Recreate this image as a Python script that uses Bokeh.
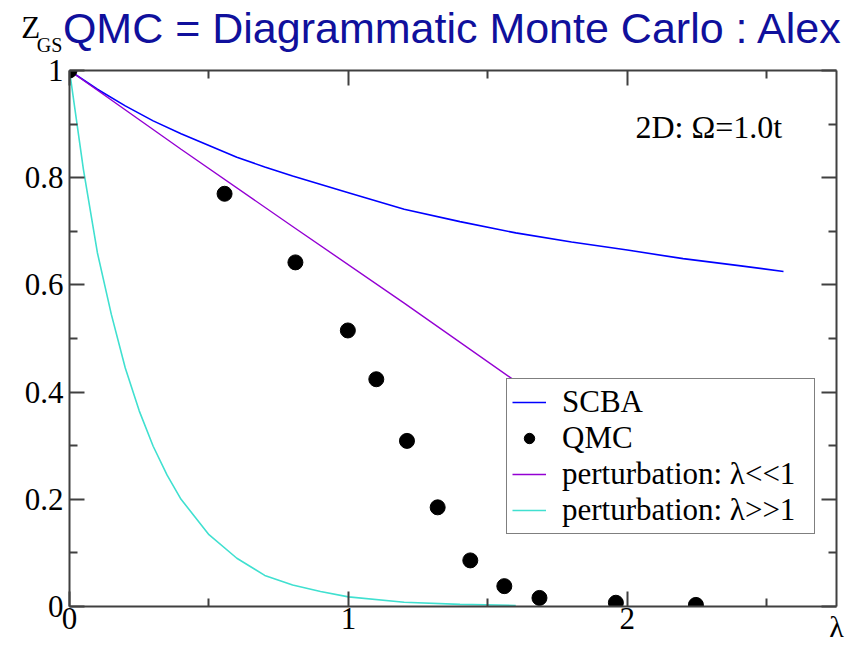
from bokeh.plotting import figure
from bokeh.models import Range1d, LinearAxis, FixedTicker, Label, Legend, LegendItem
from bokeh.embed import file_html
from bokeh.resources import INLINE

# SCBA quasiparticle weight vs coupling lambda
scba_lam = [0, 0.1, 0.2, 0.3, 0.4, 0.5, 0.6, 0.7, 0.8, 1.0, 1.2, 1.4, 1.6, 1.8, 2.0, 2.2, 2.4, 2.56]
scba_z = [1.0, 0.965, 0.934, 0.906, 0.882, 0.860, 0.838, 0.820, 0.803, 0.772, 0.741, 0.718,
          0.697, 0.680, 0.665, 0.649, 0.636, 0.625]

# Diagrammatic Monte Carlo points
qmc_lam = [0.0, 0.556, 0.810, 0.998, 1.100, 1.210, 1.320, 1.437, 1.559, 1.685, 1.959, 2.246]
qmc_z = [1.0, 0.770, 0.642, 0.515, 0.424, 0.309, 0.185, 0.086, 0.038, 0.016, 0.007, 0.003]

# weak-coupling perturbation theory
weak_lam = [0, 0.4, 0.8, 1.2, 1.6, 1.9]
weak_z = [1.0, 0.853, 0.709, 0.566, 0.420, 0.310]

# strong-coupling perturbation theory
strong_lam = [0, 0.05, 0.1, 0.15, 0.2, 0.25, 0.3, 0.35, 0.4, 0.5, 0.6, 0.7, 0.8, 0.9, 1.0, 1.2, 1.4, 1.6]
strong_z = [1.0, 0.815, 0.660, 0.545, 0.445, 0.365, 0.299, 0.245, 0.200, 0.134, 0.090, 0.058,
            0.040, 0.028, 0.018, 0.008, 0.004, 0.002]

x_major = [0, 1, 2]
x_minor = [0.5, 1.5, 2.5]
y_major = [0, 0.2, 0.4, 0.6, 0.8, 1.0]
y_minor = [0.1, 0.3, 0.5, 0.7, 0.9]

HEADING = "QMC = Diagrammatic Monte Carlo : Alex"
SERIF = "Liberation Serif"
AXIS_COLOR = "#404040"
NBSP = "\u00a0"

p = figure(width=850, height=645, output_backend="svg", toolbar_location=None,
           x_range=Range1d(0, 2.75), y_range=Range1d(0, 1),
           min_border_left=69, min_border_right=14, min_border_top=69, min_border_bottom=37,
           x_axis_location=None, y_axis_location=None)
p.grid.visible = False
p.outline_line_color = None
p.background_fill_color = "white"
p.border_fill_color = "white"


def style_axis(ax, ticks, minor):
    ax.ticker = FixedTicker(ticks=ticks, minor_ticks=minor)
    ax.axis_line_color = AXIS_COLOR
    ax.axis_line_width = 2
    ax.major_tick_line_color = AXIS_COLOR
    ax.minor_tick_line_color = AXIS_COLOR
    ax.major_tick_line_width = 2
    ax.minor_tick_line_width = 2
    ax.major_tick_in = 15
    ax.major_tick_out = 0
    ax.minor_tick_in = 8
    ax.minor_tick_out = 0
    ax.major_label_text_font = SERIF
    ax.major_label_text_font_size = "31px"
    ax.major_label_text_color = "black"


# bottom axis: tick labels and the lambda title at its right end
xb = LinearAxis()
style_axis(xb, x_major, x_minor)
xb.major_label_standoff = 1
xb.axis_label = "λ"
xb.axis_label_align = "end"
xb.axis_label_standoff_mode = "axis"
xb.axis_label_standoff = 3
xb.axis_label_text_font = SERIF
xb.axis_label_text_font_size = "30px"
xb.axis_label_text_font_style = "normal"
xb.axis_label_text_color = "black"
p.add_layout(xb, "below")

# left axis: the Z of the y title rides two lines above the "1"
yl = LinearAxis()
style_axis(yl, y_major, y_minor)
yl.major_label_standoff = 6
yl.major_label_text_line_height = 0.62
yl.major_label_overrides = {
    0: "0",
    1: "\n".join(["Z" + NBSP * 3, NBSP, "1", NBSP, NBSP]),
}
p.add_layout(yl, "left")

# top axis: mirrored ticks, the GS subscript and the slide heading
xt = LinearAxis()
style_axis(xt, x_major, x_minor)
xt.major_label_text_font_size = "20px"
xt.major_label_standoff = 15
xt.major_label_overrides = {0: "GS" + NBSP * 8, 1: "", 2: ""}
xt.axis_label = HEADING
xt.axis_label_align = "center"
xt.axis_label_standoff_mode = "axis"
xt.axis_label_standoff = 19
xt.axis_label_text_font = "Liberation Sans"
xt.axis_label_text_font_size = "43px"
xt.axis_label_text_font_style = "normal"
xt.axis_label_text_color = "#10109c"
p.add_layout(xt, "above")

# right axis: mirrored ticks only
yr = LinearAxis()
style_axis(yr, y_major, y_minor)
yr.major_label_text_font_size = "2px"
yr.major_label_text_color = None
yr.major_label_standoff = 0
p.add_layout(yr, "right")

r_scba = p.line(scba_lam, scba_z, line_color="#0000ff", line_width=1.6)
r_weak = p.line(weak_lam, weak_z, line_color="#9400d3", line_width=1.4)
r_strong = p.line(strong_lam, strong_z, line_color="#40e0d0", line_width=1.6)
r_qmc = p.scatter(qmc_lam, qmc_z, size=15, marker="circle", fill_color="black", line_color="black")

legend = Legend(items=[
    LegendItem(label="SCBA", renderers=[r_scba]),
    LegendItem(label="QMC", renderers=[r_qmc]),
    LegendItem(label="perturbation: λ<<1", renderers=[r_weak]),
    LegendItem(label="perturbation: λ>>1", renderers=[r_strong]),
], location=(437, 72))
legend.label_text_font = SERIF
legend.label_text_font_size = "31px"
legend.label_text_color = "black"
legend.glyph_width = 34
legend.glyph_height = 26
legend.label_height = 26
legend.label_width = 247
legend.label_standoff = 16
legend.spacing = 0
legend.padding = 5
legend.margin = 0
legend.border_line_color = "black"
legend.border_line_width = 1.5
legend.background_fill_color = "white"
legend.background_fill_alpha = 1.0
p.add_layout(legend)

# panel annotation
p.add_layout(Label(x=566, y=480, x_units="screen", y_units="screen", text="2D: Ω=1.0t",
                   text_font=SERIF, text_font_size="32px", text_color="black",
                   text_baseline="alphabetic"))

open("out.html", "w").write(file_html(p, INLINE))
